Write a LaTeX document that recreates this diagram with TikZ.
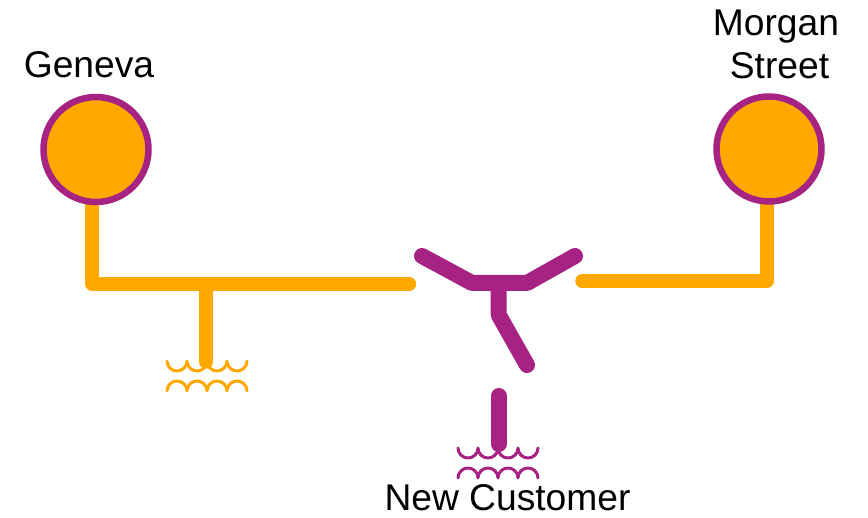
\documentclass[tikz,border=0pt]{standalone}
\usepackage{fontspec}
\setmainfont{Liberation Sans}
\definecolor{org}{HTML}{FFA800}
\definecolor{pur}{HTML}{A62383}
\pgfdeclarelayer{bg}
\pgfsetlayers{bg,main}
\tikzset{
  station/.style={circle,draw=pur,fill=org,line width=6.5pt,minimum size=105pt,inner sep=0pt},
  lab/.style={font=\fontsize{37.2}{43}\selectfont,align=center,inner sep=0pt,text=black},
  oline/.style={draw=org,line width=13.5pt,line cap=round,line join=round},
  pline/.style={draw=pur,line width=16pt,line cap=round,line join=round},
  coilline/.style={line width=3pt,line cap=round,line join=round}
}
\newcommand{\coilpair}[3]{%
  \draw[coilline,#1] (#2,#3) arc[start angle=180,end angle=360,radius=10pt]
    arc[start angle=180,end angle=360,radius=10pt]
    arc[start angle=180,end angle=360,radius=10pt]
    arc[start angle=180,end angle=360,radius=10pt];
  \draw[coilline,#1] (#2,#3+30) arc[start angle=180,end angle=0,radius=10pt]
    arc[start angle=180,end angle=0,radius=10pt]
    arc[start angle=180,end angle=0,radius=10pt]
    arc[start angle=180,end angle=0,radius=10pt];
}
\begin{document}
\begin{tikzpicture}[x=1pt,y=-1pt]
\useasboundingbox (0,0) rectangle (868,518);
\node[station] (gen) at (96,149.5) {};
\node[station] (mor) at (769,149) {};
\coordinate (g1) at (92,284);
\coordinate (g2) at (409.5,284);
\coordinate (gb) at (206,284);
\coordinate (gc) at (206,362);
\coordinate (m1) at (767,281);
\coordinate (m2) at (582,281);
\begin{pgfonlayer}{bg}
\draw[oline] (gen.center -| g1) -- (g1) -- (g2);
\draw[oline] (mor.center -| m1) -- (m1) -- (m2);
\end{pgfonlayer}
\draw[oline] (gb) -- (gc);
\coilpair{org}{167}{361}
% purple switch
\coordinate (yl) at (422,256);
\coordinate (ya) at (472,283);
\coordinate (yb) at (527,283);
\coordinate (yr) at (575,256);
\coordinate (s0) at (498.7,283);
\coordinate (s1) at (498.7,315);
\coordinate (s2) at (527,365);
\coordinate (t0) at (498.7,396);
\coordinate (t1) at (498.7,444);
\draw[pline] (yl) -- (ya) -- (yb) -- (yr);
\draw[pline] (s0) -- (s1) -- (s2);
\draw[pline] (t0) -- (t1);
\coilpair{pur}{458}{448}
% labels
\node[lab] (l1) at (89,65) {Geneva};
\node[lab] (l2) at (776,44) {Morgan\\\hspace*{7pt}Street};
\node[lab] (l3) at (507.5,498) {New Customer};
\end{tikzpicture}
\end{document}
